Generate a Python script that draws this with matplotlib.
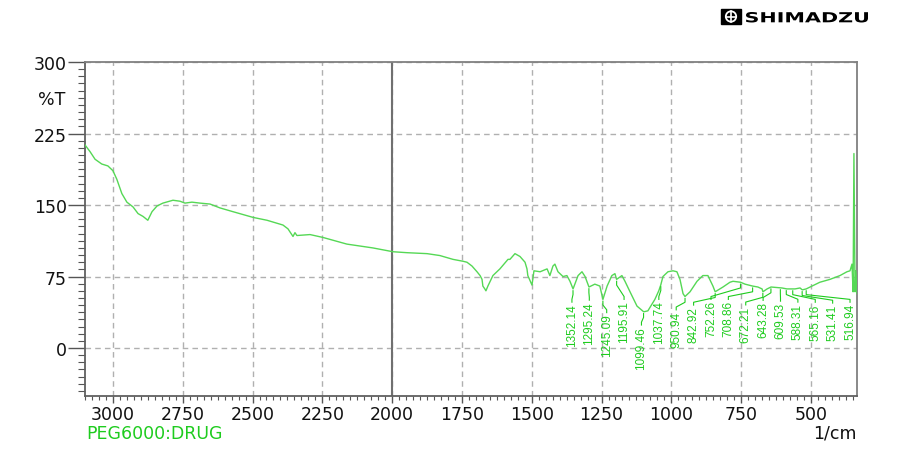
import numpy as np
import matplotlib
matplotlib.use("Agg")
import matplotlib.pyplot as plt
import matplotlib.transforms as mtransforms
from matplotlib.patches import PathPatch, Rectangle, Circle
from matplotlib.textpath import TextPath
from matplotlib.font_manager import FontProperties
from matplotlib.ticker import MultipleLocator

# spectrum (wavenumber 1/cm, %T)
wavenumber = [3100, 3082, 3064, 3040, 3018, 3000, 2986, 2968, 2950, 2928,
              2910, 2892, 2875, 2860, 2842, 2821, 2785, 2760, 2742, 2717,
              2688, 2652, 2617, 2570, 2498, 2448, 2391, 2373, 2355, 2348,
              2341, 2294, 2248, 2162, 2069, 1997, 1947, 1875, 1829, 1782,
              1746, 1732, 1714, 1696, 1685, 1678, 1675, 1668, 1664, 1657,
              1639, 1614, 1585, 1578, 1560, 1542, 1524, 1517, 1514, 1499,
              1492, 1470, 1445, 1435, 1424, 1417, 1406, 1388, 1374, 1363,
              1352, 1334, 1320, 1309, 1295, 1274, 1256, 1245, 1230, 1213,
              1202, 1196, 1177, 1166, 1148, 1123, 1099, 1084, 1059, 1045,
              1038, 1030, 1012, 994, 980, 969, 958, 951, 933, 908,
              887, 869, 851, 843, 815, 790, 779, 752, 736, 709,
              690, 675, 672, 657, 643, 604, 586, 565, 557, 539,
              531, 517, 496, 468, 432, 396, 371, 360, 353, 349,
              346, 342, 339, 335]
transmittance = [213, 206, 198, 193, 191, 186, 177, 162, 153, 148,
                 141, 138, 134, 143, 149, 152, 155, 154, 152, 153,
                 152, 151, 147, 143, 137, 134, 129, 125, 117, 121,
                 118, 119, 116, 109, 105, 101, 100, 99, 97, 93,
                 91, 90, 86, 80, 76, 72, 65, 62, 60, 65,
                 76, 83, 93, 93, 99, 96, 90, 83, 76, 66,
                 81, 80, 83, 76, 86, 88, 80, 75, 76, 70,
                 62, 76, 80, 75, 64, 67, 65, 51, 65, 76,
                 78, 72, 76, 70, 59, 44, 38, 39, 51, 60,
                 66, 75, 80, 81, 80, 72, 57, 54, 59, 70,
                 76, 76, 65, 59, 64, 69, 70, 69, 67, 65,
                 64, 62, 59, 62, 64, 63, 62, 62, 62, 63,
                 61, 62, 65, 69, 72, 76, 80, 81, 88, 59,
                 204, 59, 81, 57]

peak_labels = [1352.14, 1295.24, 1245.09, 1195.91, 1099.46, 1037.74, 950.94,
               842.92, 752.26, 708.86, 672.21, 643.28, 609.53, 588.31,
               565.16, 531.41, 516.94]

x_ticks = [3000, 2750, 2500, 2250, 2000, 1750, 1500, 1250, 1000, 750, 500]
y_ticks = [0, 75, 150, 225, 300]

line_green = "#55d855"
text_green = "#1ecc1e"

fig = plt.figure(figsize=(8.99, 4.60), dpi=100)
ax = fig.add_axes([85 / 899, 1 - 396.7 / 460, (857 - 85) / 899, (396.7 - 63) / 460])

ax.plot(wavenumber, transmittance, color=line_green, lw=1.0, zorder=3)

ax.set_xlim(3100, 335)
ax.set_ylim(-50, 300)
ax.set_xticks(x_ticks)
ax.set_yticks(y_ticks)
ax.xaxis.set_minor_locator(MultipleLocator(25))
ax.yaxis.set_minor_locator(MultipleLocator(7.5))

ax.grid(True, which="major", color="#b0b0b0", lw=1.0, dashes=(4, 3))
ax.axvline(2000, color="#707070", lw=1.5, zorder=2)

for s in ax.spines.values():
    s.set_color("#808080")
    s.set_linewidth(1.3)
ax.spines["left"].set_color("#606060")
ax.spines["bottom"].set_color("#606060")

ax.tick_params(axis="y", which="major", length=12, width=1.0, pad=1,
               color="#555555", labelsize=12.5, labelcolor="#111111")
ax.tick_params(axis="y", which="minor", length=5, width=0.8, color="#555555")
ax.tick_params(axis="x", which="major", length=5, width=1.0, pad=1.5,
               color="#555555", labelsize=12.5, labelcolor="#111111")
ax.tick_params(axis="x", which="minor", length=3, width=0.8, color="#555555")

# peak labels with leader lines
label_font = FontProperties(family="Liberation Sans", size=8.5)
label_x = np.linspace(1356, 360, len(peak_labels))
wn_asc = np.array(wavenumber)[::-1]
t_asc = np.array(transmittance)[::-1]
for pk, lx in zip(peak_labels, label_x):
    ty = np.interp(pk, wn_asc, t_asc)
    top = min(ty - 15, 50)
    ax.plot([pk, pk, lx, lx], [ty - 2, ty - 6, top + 4, top + 1],
            color=text_green, lw=0.8, zorder=4)
    ax.text(lx, top, f"{pk:.2f}", rotation=90, ha="center", va="top",
            color=text_green, fontproperties=label_font, zorder=5)

fig.text(52 / 899, 1 - 100 / 460, "%T", fontsize=12.5, color="#111111",
         ha="center", va="center")
fig.text(857 / 899, 1 - 434 / 460, "1/cm", fontsize=12.5, color="#111111",
         ha="right", va="center")
fig.text(86 / 899, 1 - 434 / 460, "PEG6000:DRUG", fontsize=12.5, color=text_green,
         ha="left", va="center")

# SHIMADZU logo (pixel coordinates)
pix = mtransforms.IdentityTransform()
H = 460
fig.patches.append(Rectangle((721, H - 25), 20, 15, color="black", transform=pix))
fig.patches.append(Circle((731, H - 17.5), 5.2, fill=False, ec="white", lw=1.3,
                          transform=pix))
fig.lines.append(plt.Line2D([726, 736], [H - 17.5, H - 17.5], color="white",
                            lw=1.2, transform=pix))
fig.lines.append(plt.Line2D([731, 731], [H - 22.7, H - 12.3], color="white",
                            lw=1.2, transform=pix))
tp = TextPath((0, 0), "SHIMADZU", size=10,
              prop=FontProperties(family="DejaVu Sans", weight="bold"))
bb = tp.get_extents()
tr = mtransforms.Affine2D().translate(-bb.x0, -bb.y0).scale(
    122 / bb.width, 10.5 / bb.height).translate(746, H - 23.5)
fig.patches.append(PathPatch(tp, transform=tr, color="black", lw=0))

fig.savefig("out.png", dpi=100)
